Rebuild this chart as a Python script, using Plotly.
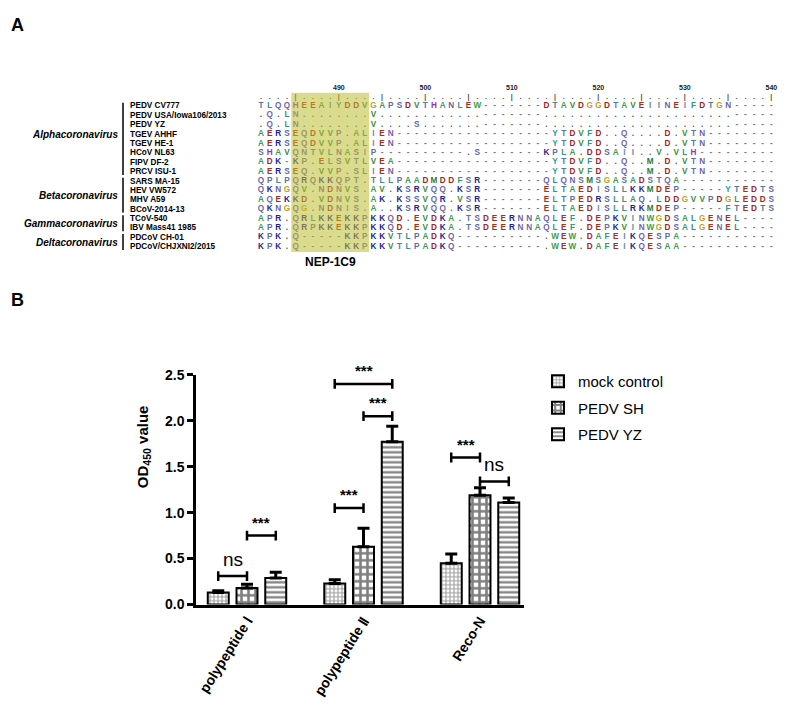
import plotly.graph_objects as go

# ---------------- Panel A data ----------------
strain_names = ["PEDV CV777", "PEDV USA/Iowa106/2013", "PEDV YZ", "TGEV AHHF", "TGEV HE-1",
                "HCoV NL63", "FIPV DF-2", "PRCV ISU-1", "SARS MA-15", "HEV VW572", "MHV A59",
                "BCoV-2014-13", "TCoV-540", "IBV Mass41 1985", "PDCoV CH-01", "PDCoV/CHJXNI2/2015"]
sequences = [
    "TLQQHEEAIYDDVGAPSDVTHANLEW" + "-" * 7 + "DTAVDGGDTAVEIINEIFDTGN" + "-" * 5,
    ".Q.LN" + "." * 8 + "V" + "." * 12 + "-" * 7 + "." * 22 + "-" * 5,
    ".Q.LN" + "." * 8 + "V" + "...." + "S" + "." * 7 + "-" * 7 + "." * 22 + "-" * 5,
    "AERSEQDVVP.ALIEN" + "-" * 18 + "YTDVFD..Q....D.VTN" + "-" * 8,
    "AERSEQDVVP.ALIEN" + "-" * 18 + "YTDVFD..Q....D.VTN" + "-" * 8,
    "SHAVQNTVLNASIP" + "-" * 10 + ".S" + "-" * 7 + "KPLA.DDSAII..V.VLH" + "-" * 9,
    "ADK-KP.ELSVTLVEA" + "-" * 18 + "YTDVFD..Q..M.D.VTN" + "-" * 8,
    "AERSEQ.VVP.SLIEN" + "-" * 18 + "YTDVFD..Q..M.D.VTN" + "-" * 8,
    "QPLPQRQKKQPT.TLLPAADMDDFSR" + "-" * 7 + "QLQNSMSGASADSTQA" + "-" * 11,
    "QKNGQV.NDNVS.AV.KSRVQQ.KSR" + "-" * 7 + "ELTAEDISLLKKMDEP" + "-" * 5 + "YTEDTS",
    "AQEKKD.VDNVS.AK.KSSVQR.VSR" + "-" * 7 + "ELTPEDRSLLAQ.LDDGVVPDGLEDDS",
    "QKNGQG.NDNIS.A..KSRVQQ.KSR" + "-" * 7 + "ELTAEDISLLRKMDEP" + "-" * 5 + "FTEDTS",
    "APR.QRLKKEKKPKKQD.EVDKA.TSDEERNNAQLEF.DEPKVINWGDSALGENEL----",
    "APR.QRPKKEKKPKKQD.EVDKA.TSDEERNNAQLEF.DEPKVINWGDSALGENEL----",
    "KPK.Q" + "-" * 5 + "KKPKKVTLPADKQ" + "-" * 10 + ".WEW.DAFEIKQESPA" + "-" * 11,
    "KPK.Q" + "-" * 5 + "KKPKKVTLPADKQ" + "-" * 10 + ".WEW.DAFEIKQESAA" + "-" * 11,
]
group_names = ["Alphacoronavirus", "Betacoronavirus", "Gammacoronavirus", "Deltacoronavirus"]
group_first = [0, 8, 12, 14]
group_last = [7, 11, 13, 15]
group_label_row = [3, 9.5, 12.5, 14.5]
first_pos = 481
ruler_labels = [490, 500, 510, 520, 530, 540]
epitope_start, epitope_end = 485, 493
epitope_name = "NEP-1C9"

# ---------------- Panel B data ----------------
categories = ["polypeptide Ⅰ", "polypeptide Ⅱ", "Reco-N"]
series_names = ["mock control", "PEDV SH", "PEDV YZ"]
mock_vals = [0.13, 0.23, 0.45]
mock_err = [0.02, 0.04, 0.10]
sh_vals = [0.18, 0.63, 1.19]
sh_err = [0.04, 0.20, 0.08]
yz_vals = [0.29, 1.77, 1.11]
yz_err = [0.06, 0.17, 0.05]
sig_group = [0, 0, 1, 1, 1, 2, 2]
sig_from = [0, 1, 0, 1, 0, 0, 1]
sig_to = [1, 2, 1, 2, 2, 1, 2]
sig_y = [0.31, 0.75, 1.05, 2.05, 2.4, 1.6, 1.34]
sig_text = ["ns", "***", "***", "***", "***", "***", "ns"]

# ---------------- styling ----------------
W, H = 793, 715
FONT = "Liberation Sans, Arial, sans-serif"
res_colors = {
    "A": "#3f9a5a", "V": "#3a8a3a", "L": "#3d8c8c", "I": "#6f86a6", "M": "#2f7a2f",
    "F": "#2f9a7a", "W": "#3c9c3c", "Y": "#2a9a9a", "G": "#c2a21a", "P": "#5f6fa2",
    "S": "#5767a6", "T": "#56789e", "N": "#6d5fa8", "Q": "#6f67a8", "D": "#a02424",
    "E": "#a4301e", "K": "#1f1f8c", "R": "#1f1f8c", "H": "#9a2eb4", ".": "#555555",
    "-": "#777777",
}
col_w = 8.65         # px per alignment column
col0_px = 253.0      # px position of first column
row0_px = 92.0       # px position of first row
row_h = 9.6          # px per row
seq_font = 8.2

x2_lo = first_pos - col0_px / col_w
x2_hi = x2_lo + W / col_w
y2_top = -row0_px / row_h
y2_bot = y2_top + H / row_h

fig = go.Figure()

# alignment residues
xs, ys, ts, cs = [], [], [], []
for r, seq in enumerate(sequences):
    assert len(seq) == 60, (r, len(seq))
    for i, ch in enumerate(seq):
        xs.append(first_pos + i)
        ys.append(r)
        ts.append(ch)
        cs.append(res_colors.get(ch, "#444444"))
fig.add_trace(go.Scatter(x=xs, y=ys, text=ts, mode="text", xaxis="x2", yaxis="y2",
                         textfont=dict(family=FONT, size=seq_font, color=cs, weight=700),
                         showlegend=False, hoverinfo="skip"))

# ruler
rx = list(range(first_pos, first_pos + 60))
rt = ["|" if c % 5 == 0 else "." for c in rx]
fig.add_trace(go.Scatter(x=rx, y=[-0.97] * len(rx), text=rt, mode="text", xaxis="x2", yaxis="y2",
                         textfont=dict(family=FONT, size=7, color="#444444", weight=700),
                         showlegend=False, hoverinfo="skip"))
fig.add_trace(go.Scatter(x=ruler_labels, y=[-1.9] * len(ruler_labels), text=[str(v) for v in ruler_labels],
                         mode="text", xaxis="x2", yaxis="y2",
                         textfont=dict(family=FONT, size=7, color="#222222", weight=700),
                         showlegend=False, hoverinfo="skip"))

shapes = []
annotations = []

# epitope box
shapes.append(dict(type="rect", xref="x2", yref="y2", x0=epitope_start - 0.5, x1=epitope_end + 0.5,
                   y0=-1.4, y1=len(sequences) - 0.45, fillcolor="rgb(190,190,50)", opacity=0.55,
                   line=dict(width=0), layer="above"))
annotations.append(dict(xref="x2", yref="y2", x=(epitope_start + epitope_end) / 2, y=len(sequences) + 0.65,
                        text="<b>" + epitope_name + "</b>", showarrow=False,
                        font=dict(family=FONT, size=12, color="black")))

# strain names
name_x = x2_lo + 121 / col_w
for r, nm in enumerate(strain_names):
    annotations.append(dict(xref="x2", yref="y2", x=name_x, y=r, text="<b>" + nm + "</b>",
                            showarrow=False, xanchor="left", yanchor="middle", borderpad=0,
                            font=dict(family=FONT, size=seq_font, color="black")))

# group brackets and labels
line_x = x2_lo + 115 / col_w
lab_x = x2_lo + 112 / col_w
for g, nm in enumerate(group_names):
    shapes.append(dict(type="line", xref="x2", yref="y2", x0=line_x, x1=line_x,
                       y0=group_first[g] - 0.35, y1=group_last[g] + 0.35,
                       line=dict(color="black", width=1.5)))
    annotations.append(dict(xref="x2", yref="y2", x=lab_x, y=group_label_row[g],
                            text="<b><i>" + nm + "</i></b>", showarrow=False,
                            xanchor="right", yanchor="middle",
                            font=dict(family=FONT, size=10, color="black")))

# panel letters
annotations.append(dict(xref="paper", yref="paper", x=1 / W, y=1 - 9 / H, text="<b>A</b>",
                        showarrow=False, xanchor="left", yanchor="middle",
                        font=dict(family=FONT, size=18, color="black")))
annotations.append(dict(xref="paper", yref="paper", x=1 / W, y=1 - 290 / H, text="<b>B</b>",
                        showarrow=False, xanchor="left", yanchor="middle",
                        font=dict(family=FONT, size=18, color="black")))

# ---------------- Panel B ----------------
patterns = [dict(shape="+", size=4, solidity=0.45, fgcolor="#333333", bgcolor="white"),
            dict(shape="+", size=7, solidity=0.6, fgcolor="black", bgcolor="white"),
            dict(shape="-", size=5, solidity=0.45, fgcolor="black", bgcolor="white")]
vals = [mock_vals, sh_vals, yz_vals]
errs = [mock_err, sh_err, yz_err]
for k in range(3):
    fig.add_trace(go.Bar(x=categories, y=vals[k], name=series_names[k], legendgroup=series_names[k],
                         marker=dict(color="white", pattern=patterns[k],
                                     line=dict(color="black", width=2)),
                         error_y=dict(type="data", array=errs[k], arrayminus=[0] * 3, symmetric=False,
                                      color="black", thickness=3, width=6),
                         xaxis="x", yaxis="y"))

px_per_unit_y = (602 - 367) / 2.5
slot = 0.247
tick_h = 5 / px_per_unit_y
for g, a, b, yv, t in zip(sig_group, sig_from, sig_to, sig_y, sig_text):
    xa = g + (a - 1) * slot
    xb = g + (b - 1) * slot
    shapes.append(dict(type="line", xref="x", yref="y", x0=xa, x1=xb, y0=yv, y1=yv,
                       line=dict(color="black", width=2.5)))
    for xx in (xa, xb):
        shapes.append(dict(type="line", xref="x", yref="y", x0=xx, x1=xx, y0=yv - tick_h, y1=yv + tick_h,
                           line=dict(color="black", width=2.5)))
    if t == "ns":
        annotations.append(dict(xref="x", yref="y", x=(xa + xb) / 2, y=yv + 4 / px_per_unit_y, text=t,
                                showarrow=False, yanchor="bottom",
                                font=dict(family=FONT, size=19, color="black")))
    else:
        annotations.append(dict(xref="x", yref="y", x=(xa + xb) / 2, y=yv + 3 / px_per_unit_y,
                                text="<b>" + t + "</b>", showarrow=False, yanchor="bottom",
                                font=dict(family=FONT, size=15, color="black")))

annotations.append(dict(xref="paper", yref="paper", x=124 / W, y=1 - 485 / H,
                        text="<b>OD<sub>450</sub> value</b>", textangle=-90, showarrow=False,
                        font=dict(family=FONT, size=15, color="black")))

unit_x = 116.5
center0_px = 239
x_lo = -(center0_px - 188) / unit_x
x_hi = (516 - center0_px) / unit_x

fig.update_layout(
    width=W, height=H, margin=dict(l=0, r=0, t=0, b=0),
    paper_bgcolor="white", plot_bgcolor="rgba(0,0,0,0)",
    font=dict(family=FONT, color="black"),
    barmode="group", bargap=0.26, bargroupgap=0.27,
    shapes=shapes, annotations=annotations,
    showlegend=True,
    legend=dict(x=530 / W, y=1 - 357 / H, xanchor="left", yanchor="top",
                font=dict(family=FONT, size=15, color="black"), bgcolor="rgba(0,0,0,0)",
                tracegroupgap=4),
    xaxis=dict(domain=[188 / W, 516 / W], range=[x_lo, x_hi], showline=True,
               linecolor="black", linewidth=2.5, ticks="", tickangle=-58, showgrid=False,
               tickfont=dict(family=FONT, size=14, color="black", weight=700), anchor="y"),
    yaxis=dict(domain=[1 - 602 / H, 1 - 367 / H], range=[0, 2.5], dtick=0.5, tickformat=".1f",
               showline=True, linecolor="black", linewidth=2.5, ticks="outside", ticklen=6,
               tickwidth=2.5, tickcolor="black", showgrid=False, zeroline=False,
               tickfont=dict(family=FONT, size=14, color="black", weight=700), anchor="x"),
    xaxis2=dict(domain=[0, 1], range=[x2_lo, x2_hi], visible=False, anchor="y2"),
    yaxis2=dict(domain=[0, 1], range=[y2_bot, y2_top], visible=False, anchor="x2"),
)

fig.write_html("out.html")
